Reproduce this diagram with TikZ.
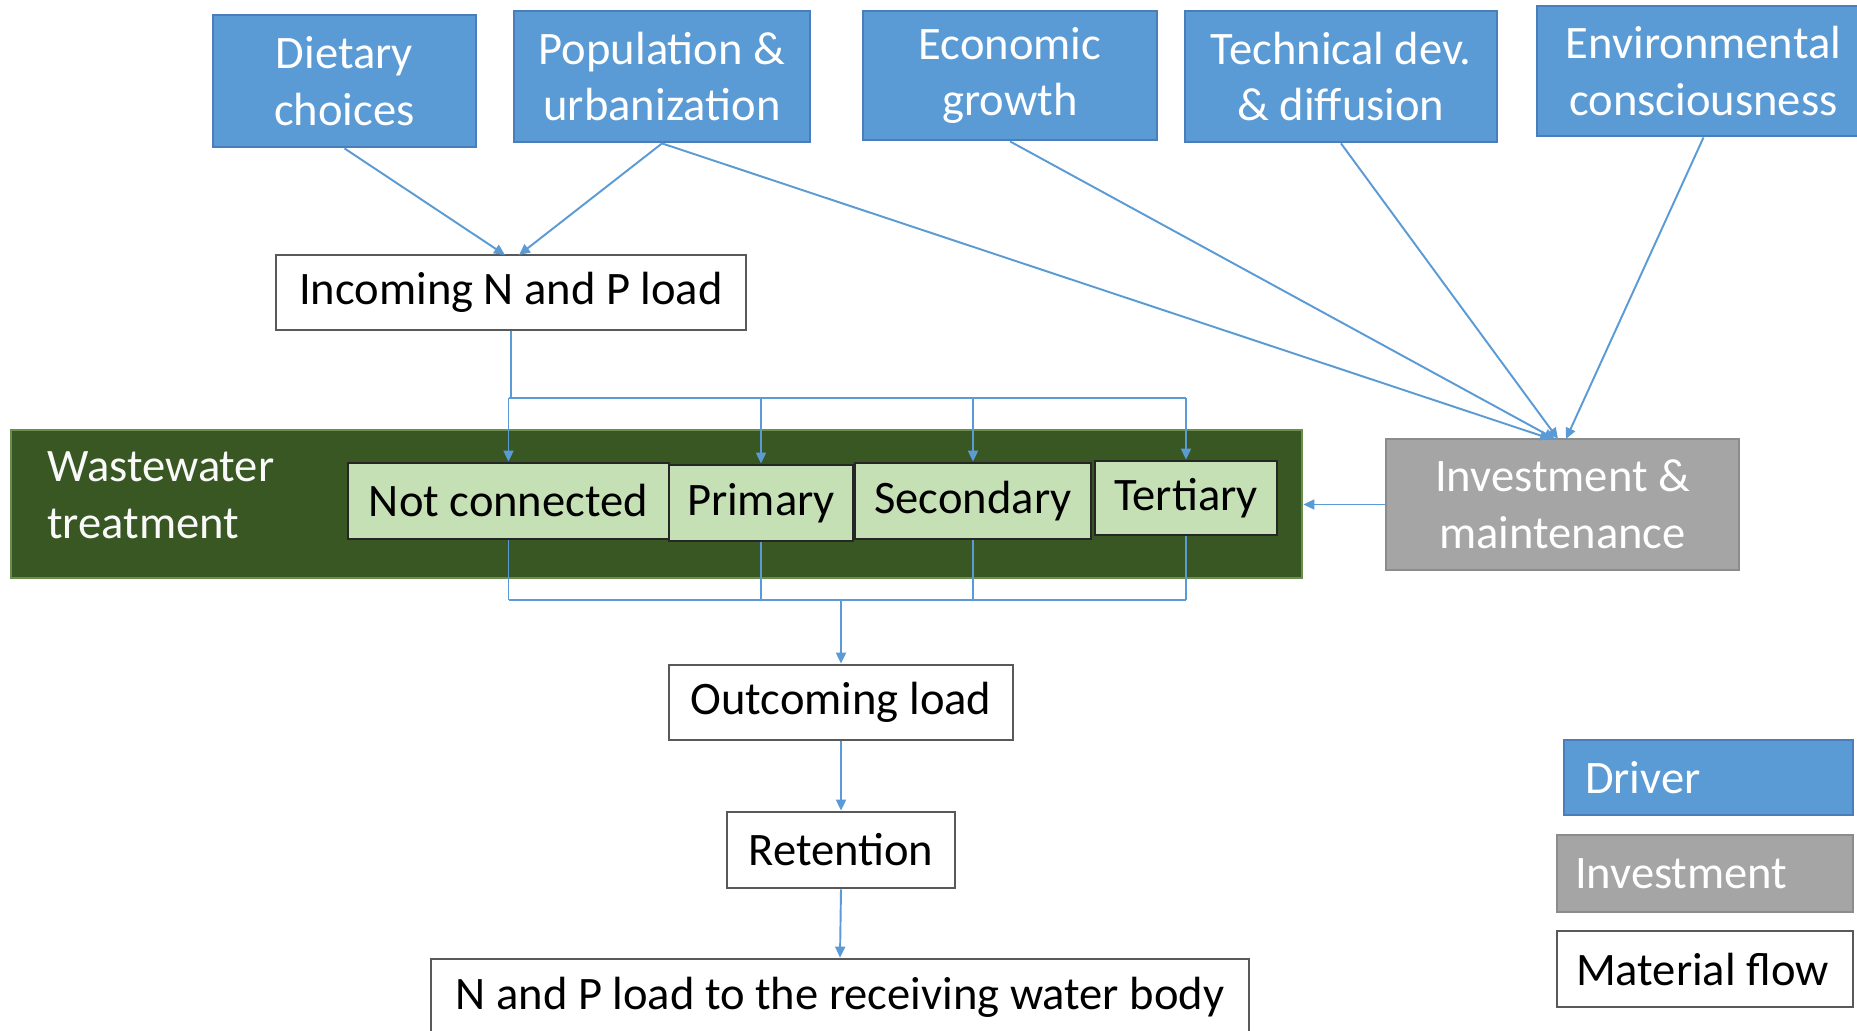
\documentclass[tikz,border=0pt]{standalone}
\usepackage{fontspec}
\setmainfont{Carlito}
\usetikzlibrary{arrows.meta}
\definecolor{drvblue}{HTML}{5B9BD5}
\definecolor{drvedge}{HTML}{4A7EBB}
\definecolor{invgray}{HTML}{A5A5A5}
\definecolor{invedge}{HTML}{8C8C8C}
\definecolor{bandgreen}{HTML}{385723}
\definecolor{bandedge}{HTML}{6B8E4E}
\definecolor{boxgreen}{HTML}{C5E0B4}
\definecolor{flowedge}{HTML}{595959}
\definecolor{linkblue}{HTML}{5B9BD5}
\begin{document}
\begin{tikzpicture}[x=0.02cm,y=-0.02cm,
  every node/.style={font=\fontsize{26.5}{32.4}\selectfont, inner sep=0pt},
  drvbox/.style={draw=drvedge, fill=drvblue, line width=1.6pt, text=white, align=center},
  invbox/.style={draw=invedge, fill=invgray, line width=1.6pt, text=white, align=center},
  flowbox/.style={draw=flowedge, fill=white, line width=1.6pt, text=black, align=center},
  trtbox/.style={draw=black!85, fill=boxgreen, line width=1.6pt, text=black},
  bandbox/.style={draw=bandedge, fill=bandgreen, line width=1.6pt},
  link/.style={draw=linkblue, line width=1.1pt},
  arrowlink/.style={link, -{Triangle[length=0.22cm,width=0.2cm]}},
  wh/.style 2 args={minimum width=#1*0.02cm, minimum height=#2*0.02cm}
]
\useasboundingbox (0,0) rectangle (1857,1031);
\fill[white] (0,0) rectangle (1857,1031);
\clip (0,0) rectangle (1857,1031);

% drivers
\node[drvbox, wh={263}{132}] (diet) at (344.5,81) {Dietary\\choices};
\node[drvbox, wh={296}{131}] (pop) at (662,76.5) {Population \&\\urbanization};
\node[drvbox, wh={294}{129}] (econ) at (1010,75.5) {Economic\\growth};
\node[drvbox, wh={312}{131}] (tech) at (1341,76.5) {Technical dev.\\\& diffusion};
\node[drvbox, wh={333}{130}] (env) at (1703.5,71) {Environmental\\consciousness};

% material flow
\node[flowbox, wh={470}{75}] (incoming) at (511,292.5) {Incoming N and P load};

\node[bandbox, wh={1291}{148}] (band) at (656.5,504) {};
\node[text=white!95!gray, anchor=west, align=left] (wwt) at (47,495) {Wastewater\\treatment};
\node[trtbox, wh={321}{76}] (notc) at (508.5,501) {Not connected};
\node[trtbox, wh={184}{76}] (prim) at (761,503) {Primary};
\node[trtbox, wh={236}{76}] (sec) at (973,501) {Secondary};
\node[trtbox, wh={182}{74}] (ter) at (1186,498) {Tertiary};

\node[invbox, wh={353}{131}] (inv) at (1562.5,504.5) {Investment \&\\maintenance};

\node[flowbox, wh={344}{75}] (out) at (841,702.5) {Outcoming load};
\node[flowbox, wh={228}{76}] (ret) at (841,850) {Retention};
\node[flowbox, wh={818}{76}] (npload) at (840,997) {N and P load to the receiving water body};

% legend
\node[drvbox, wh={289}{75}] (ldrv) at (1708.5,777.5) {\makebox[4.94cm][l]{Driver}};
\node[invbox, wh={296}{77}] (linv) at (1705,873.5) {\makebox[5.2cm][l]{Investment}};
\node[flowbox, wh={296}{76}] (lmat) at (1705,969) {\makebox[5.16cm][l]{Material flow}};

% coordinates
\coordinate (inA) at (505,255);
\coordinate (inB) at (519,255);
\coordinate (invA) at (1551,439);
\coordinate (invB) at (1555,439);
\coordinate (invC) at (1558,439);
\coordinate (invD) at (1566,439);
\coordinate (split) at (511,398);
\coordinate (merge) at (841,600);

% driver links
\draw[arrowlink] (diet.south) -- (inA);
\draw[arrowlink] (pop.south) -- (inB);
\draw[arrowlink] (pop.south) -- (invA);
\draw[arrowlink] (econ.south) -- (invB);
\draw[arrowlink] (tech.south) -- (invC);
\draw[arrowlink] (env.south) -- (invD);
\draw[arrowlink] (inv.west) -- (inv.west -| band.east);

% distribution
\draw[link] (incoming.south) -- (split);
\draw[link] (notc.north |- split) -- (ter.north |- split);
\foreach \b in {notc,prim,sec,ter}{
  \draw[arrowlink] (\b.north |- split) -- (\b.north);
  \draw[link] (\b.south) -- (\b.south |- merge);
}
\draw[link] (notc.south |- merge) -- (ter.south |- merge);
\draw[arrowlink] (merge) -- (out.north);
\draw[arrowlink] (out.south) -- (ret.north);
\draw[arrowlink] (ret.south) -- (npload.north);
\end{tikzpicture}
\end{document}
